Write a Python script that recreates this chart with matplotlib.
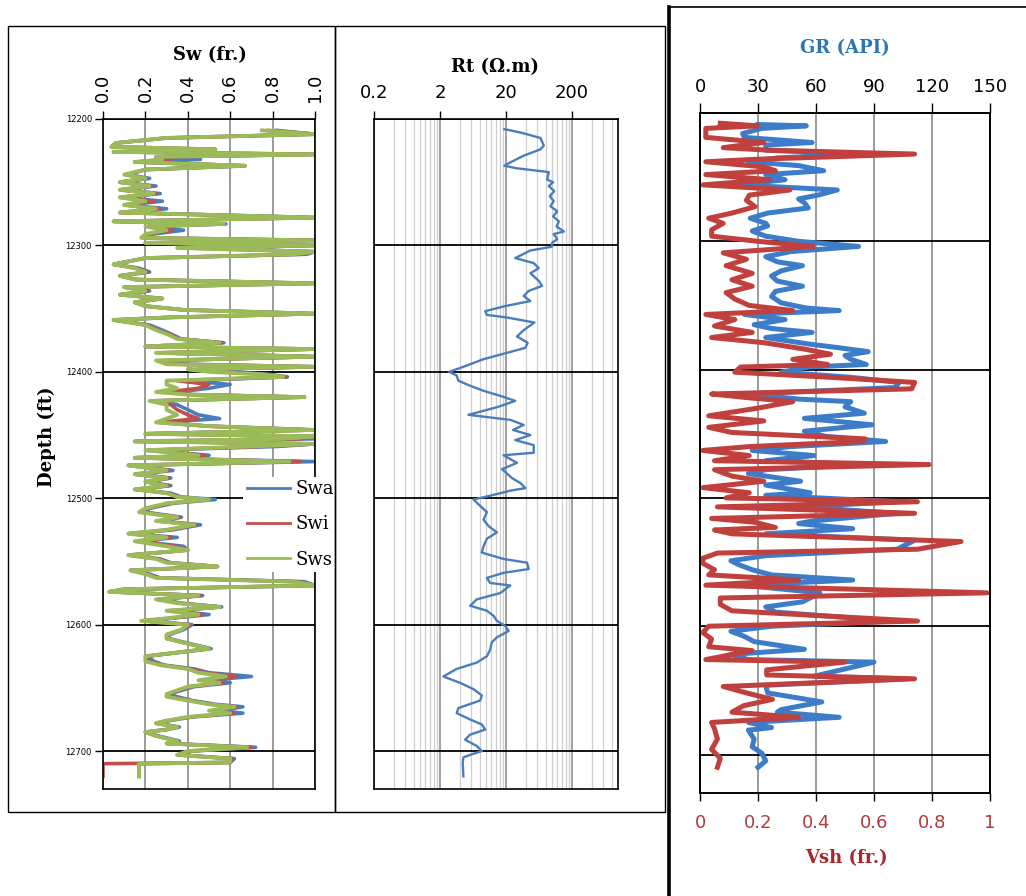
import numpy as np
import matplotlib
matplotlib.use("Agg")
import matplotlib.pyplot as plt
from matplotlib.patches import Rectangle
from matplotlib.ticker import FixedLocator, NullFormatter

# ---- Sw track (depth in ft, saturation fraction) ----
sw_depth = [12209, 12212, 12215, 12219, 12222, 12224, 12226, 12228, 12230, 12232,
            12234, 12237, 12240, 12244, 12247, 12250, 12253, 12256, 12259, 12262,
            12265, 12268, 12271, 12274, 12278, 12281, 12283, 12285, 12288, 12291,
            12294, 12296, 12298, 12300, 12302, 12305, 12307, 12310, 12315, 12318,
            12321, 12324, 12327, 12330, 12333, 12336, 12339, 12342, 12345, 12348,
            12351, 12354, 12357, 12359, 12363, 12367, 12370, 12374, 12377, 12380,
            12382, 12385, 12388, 12391, 12394, 12396, 12398, 12400, 12402, 12404,
            12407, 12410, 12413, 12416, 12418, 12420, 12423, 12426, 12430, 12434,
            12437, 12440, 12443, 12446, 12449, 12451, 12453, 12455, 12457, 12459,
            12462, 12466, 12468, 12471, 12474, 12478, 12481, 12484, 12487, 12490,
            12493, 12496, 12499, 12501, 12504, 12508, 12511, 12515, 12518, 12521,
            12525, 12528, 12531, 12534, 12538, 12541, 12545, 12548, 12551, 12554,
            12557, 12560, 12563, 12566, 12569, 12572, 12574, 12577, 12580, 12583,
            12586, 12589, 12592, 12595, 12597, 12600, 12604, 12608, 12611, 12615,
            12619, 12622, 12625, 12629, 12632, 12635, 12638, 12641, 12644, 12646,
            12649, 12652, 12655, 12657, 12660, 12663, 12665, 12668, 12670, 12673,
            12676, 12678, 12681, 12683, 12685, 12688, 12690, 12692, 12694, 12697,
            12700, 12703, 12706, 12709, 12710, 12720]

sws = [0.75, 1.0, 0.30, 0.06, 0.04, 0.53, 0.05, 1.0, 0.25, 0.28,
       0.15, 0.67, 0.20, 0.10, 0.20, 0.08, 0.22, 0.08, 0.24, 0.08,
       0.20, 0.10, 0.25, 0.08, 1.0, 0.05, 0.57, 0.20, 0.30, 0.20,
       0.18, 1.0, 0.20, 1.0, 0.35, 1.0, 0.90, 0.20, 0.05, 0.15,
       0.20, 0.08, 0.15, 1.0, 0.10, 0.20, 0.08, 0.28, 0.15, 0.20,
       0.38, 1.0, 0.30, 0.05, 0.20, 0.25, 0.30, 0.35, 0.55, 0.20,
       1.0, 0.25, 1.0, 0.25, 0.30, 1.0, 0.40, 0.50, 0.75, 0.85,
       0.30, 0.30, 0.35, 0.25, 0.40, 0.95, 0.22, 0.30, 0.30, 0.35,
       0.30, 0.25, 0.50, 1.0, 0.20, 1.0, 0.85, 0.15, 1.0, 0.70,
       0.20, 0.45, 0.15, 0.88, 0.12, 0.30, 0.15, 0.30, 0.20, 0.30,
       0.15, 0.30, 0.35, 0.50, 0.30, 0.20, 0.17, 0.35, 0.25, 0.43,
       0.30, 0.12, 0.30, 0.15, 0.30, 0.40, 0.12, 0.25, 0.30, 0.54,
       0.13, 0.20, 0.25, 0.90, 1.0, 0.10, 0.03, 0.45, 0.25, 0.35,
       0.55, 0.30, 0.45, 0.30, 0.18, 0.40, 0.37, 0.30, 0.30, 0.40,
       0.50, 0.35, 0.20, 0.20, 0.27, 0.40, 0.45, 0.58, 0.45, 0.55,
       0.40, 0.35, 0.30, 0.30, 0.40, 0.50, 0.62, 0.50, 0.60, 0.40,
       0.30, 0.25, 0.35, 0.30, 0.20, 0.25, 0.30, 0.35, 0.30, 0.68,
       0.40, 0.35, 0.60, 0.60, 0.17, 0.17]

swa = [0.82, 1.0, 0.30, 0.06, 0.04, 0.53, 0.05, 1.0, 0.25, 0.46,
       0.15, 0.67, 0.20, 0.12, 0.22, 0.08, 0.25, 0.09, 0.27, 0.09,
       0.28, 0.11, 0.30, 0.08, 1.0, 0.05, 0.58, 0.22, 0.38, 0.24,
       0.20, 1.0, 0.20, 1.0, 0.45, 1.0, 0.96, 0.20, 0.05, 0.17,
       0.22, 0.08, 0.16, 1.0, 0.10, 0.22, 0.08, 0.28, 0.15, 0.20,
       0.38, 1.0, 0.30, 0.05, 0.22, 0.28, 0.32, 0.37, 0.57, 0.20,
       1.0, 0.27, 1.0, 0.30, 0.40, 1.0, 0.50, 0.62, 0.78, 0.87,
       0.40, 0.60, 0.50, 0.35, 0.42, 0.95, 0.24, 0.35, 0.40, 0.45,
       0.55, 0.28, 0.50, 1.0, 0.20, 1.0, 1.0, 0.15, 1.0, 0.83,
       0.22, 0.50, 0.15, 1.0, 0.12, 0.33, 0.16, 0.32, 0.21, 0.32,
       0.16, 0.32, 0.37, 0.53, 0.33, 0.22, 0.20, 0.37, 0.27, 0.46,
       0.33, 0.13, 0.35, 0.17, 0.38, 0.40, 0.13, 0.27, 0.32, 0.54,
       0.13, 0.22, 0.27, 0.95, 1.0, 0.10, 0.03, 0.47, 0.27, 0.37,
       0.56, 0.33, 0.50, 0.32, 0.20, 0.42, 0.38, 0.31, 0.31, 0.41,
       0.51, 0.36, 0.21, 0.24, 0.29, 0.43, 0.50, 0.70, 0.50, 0.60,
       0.43, 0.37, 0.31, 0.35, 0.42, 0.53, 0.66, 0.55, 0.66, 0.42,
       0.31, 0.26, 0.36, 0.30, 0.20, 0.26, 0.31, 0.36, 0.31, 0.72,
       0.42, 0.36, 0.62, 0.60, 0.17, 0.17]

swi = [0.78, 1.0, 0.30, 0.06, 0.04, 0.53, 0.05, 1.0, 0.25, 0.32,
       0.15, 0.67, 0.20, 0.11, 0.20, 0.08, 0.23, 0.08, 0.25, 0.08,
       0.24, 0.10, 0.27, 0.08, 1.0, 0.05, 0.57, 0.21, 0.33, 0.22,
       0.19, 1.0, 0.20, 1.0, 0.40, 1.0, 0.93, 0.20, 0.05, 0.16,
       0.21, 0.08, 0.15, 1.0, 0.10, 0.21, 0.08, 0.28, 0.15, 0.20,
       0.38, 1.0, 0.30, 0.05, 0.21, 0.26, 0.31, 0.36, 0.56, 0.20,
       1.0, 0.26, 1.0, 0.28, 0.35, 1.0, 0.45, 0.55, 0.76, 0.86,
       0.35, 0.50, 0.45, 0.30, 0.41, 0.95, 0.23, 0.32, 0.35, 0.40,
       0.45, 0.26, 0.50, 1.0, 0.20, 1.0, 0.93, 0.15, 1.0, 0.75,
       0.21, 0.48, 0.15, 0.93, 0.12, 0.31, 0.15, 0.31, 0.20, 0.31,
       0.15, 0.31, 0.36, 0.47, 0.31, 0.21, 0.18, 0.36, 0.26, 0.44,
       0.31, 0.12, 0.32, 0.16, 0.34, 0.40, 0.12, 0.26, 0.31, 0.54,
       0.13, 0.21, 0.26, 0.92, 1.0, 0.10, 0.03, 0.46, 0.26, 0.36,
       0.55, 0.31, 0.47, 0.31, 0.19, 0.41, 0.37, 0.30, 0.30, 0.40,
       0.50, 0.35, 0.20, 0.22, 0.28, 0.41, 0.48, 0.63, 0.48, 0.57,
       0.41, 0.36, 0.30, 0.32, 0.41, 0.51, 0.63, 0.52, 0.62, 0.41,
       0.30, 0.25, 0.35, 0.30, 0.20, 0.25, 0.30, 0.35, 0.30, 0.70,
       0.41, 0.35, 0.61, 0.60, 0.0, 0.0]

# ---- Rt track (ohm.m) ----
rt_depth = [12208, 12211, 12215, 12221, 12224, 12229, 12235, 12237, 12239, 12242,
            12248, 12250, 12253, 12257, 12261, 12265, 12269, 12273, 12277, 12281,
            12285, 12289, 12291, 12295, 12298, 12301, 12304, 12310, 12314, 12318,
            12322, 12328, 12332, 12336, 12340, 12344, 12348, 12352, 12355, 12357,
            12361, 12367, 12372, 12377, 12381, 12385, 12390, 12396, 12400, 12403,
            12407, 12411, 12415, 12419, 12423, 12428, 12434, 12438, 12442, 12446,
            12450, 12454, 12458, 12464, 12466, 12472, 12477, 12484, 12488, 12492,
            12494, 12498, 12501, 12506, 12511, 12517, 12522, 12527, 12532, 12538,
            12543, 12548, 12551, 12556, 12559, 12563, 12567, 12569, 12575, 12580,
            12585, 12589, 12593, 12597, 12601, 12605, 12610, 12614, 12620, 12625,
            12630, 12635, 12641, 12646, 12651, 12656, 12660, 12666, 12670, 12675,
            12679, 12683, 12687, 12691, 12696, 12700, 12703, 12705, 12709, 12720]

rt = [18.9, 35.1, 66.7, 75.0, 66.7, 37.2, 22.0, 18.9, 29.4, 89.3,
      84.2, 104, 89.3, 108, 92.4, 106, 94.6, 120, 104, 127,
      117, 151, 106, 120, 100, 100, 47.0, 27.7, 52.8, 62.9,
      47.0, 62.9, 70.7, 44.3, 37.2, 47.0, 19.5, 9.69, 10.3, 20.7,
      54.0, 37.2, 29.4, 42.8, 39.4, 20.7, 9.14, 4.53, 2.77, 3.59,
      3.80, 5.73, 9.14, 16.4, 27.7, 14.6, 5.40, 23.3, 37.2, 25.6,
      47.0, 27.7, 52.8, 52.8, 18.4, 29.4, 17.4, 24.7, 33.1, 39.4,
      23.3, 11.5, 6.44, 8.13, 10.3, 9.14, 10.9, 14.6, 10.3, 9.14,
      8.63, 18.4, 41.8, 44.3, 18.4, 10.3, 11.5, 23.3, 16.4, 7.23,
      5.73, 10.3, 13.0, 14.6, 19.5, 22.0, 14.6, 12.2, 11.5, 10.3,
      7.23, 3.59, 2.25, 4.03, 6.44, 8.63, 8.13, 3.80, 3.59, 5.73,
      8.63, 9.69, 5.73, 4.81, 7.23, 8.63, 5.73, 4.53, 4.43, 4.53]

# ---- GR / Vsh track ----
gr_depth = [12209, 12210, 12212, 12216, 12219, 12223, 12225, 12229, 12232, 12235,
            12238, 12241, 12245, 12248, 12252, 12256, 12260, 12264, 12267, 12270,
            12274, 12278, 12282, 12286, 12288, 12292, 12296, 12300, 12304, 12308,
            12312, 12316, 12319, 12323, 12327, 12331, 12335, 12339, 12343, 12348,
            12352, 12354, 12357, 12361, 12365, 12368, 12371, 12375, 12380, 12383,
            12386, 12389, 12392, 12396, 12398, 12402, 12406, 12410, 12414, 12419,
            12423, 12425, 12429, 12434, 12438, 12443, 12448, 12452, 12456, 12460,
            12463, 12467, 12471, 12474, 12478, 12481, 12487, 12490, 12496, 12498,
            12503, 12507, 12512, 12518, 12520, 12524, 12528, 12533, 12540, 12545,
            12549, 12552, 12556, 12560, 12564, 12568, 12574, 12581, 12585, 12589,
            12596, 12600, 12604, 12608, 12612, 12618, 12622, 12626, 12628, 12634,
            12639, 12641, 12646, 12652, 12656, 12659, 12665, 12667, 12671, 12675,
            12679, 12681, 12688, 12694, 12699, 12705, 12710]

gr = [30, 55, 32, 22, 23, 58, 34, 34, 85, 40,
      25, 51, 64, 34, 44, 20, 71, 61, 51, 54,
      56, 35, 26, 34, 35, 27, 34, 51, 82, 47,
      34, 40, 53, 42, 37, 40, 53, 39, 37, 42,
      55, 72, 23, 44, 28, 37, 58, 34, 56, 72,
      87, 75, 78, 86, 56, 42, 78, 103, 101, 25,
      51, 78, 75, 85, 54, 89, 54, 65, 96, 47,
      27, 59, 34, 85, 34, 25, 52, 34, 57, 34,
      102, 51, 102, 58, 51, 79, 34, 111, 102, 34,
      16, 20, 27, 37, 79, 22, 62, 53, 34, 39,
      100, 37, 16, 23, 28, 54, 16, 25, 90, 73,
      59, 106, 34, 35, 51, 63, 42, 40, 72, 25,
      37, 25, 28, 27, 32, 34, 30]

vsh_depth = [12208, 12210, 12212, 12219, 12223, 12227, 12229, 12232, 12236, 12238,
             12242, 12245, 12248, 12252, 12256, 12260, 12264, 12268, 12273, 12278,
             12282, 12286, 12291, 12296, 12300, 12304, 12309, 12314, 12319, 12325,
             12330, 12335, 12340, 12345, 12350, 12354, 12357, 12361, 12366, 12371,
             12375, 12379, 12384, 12388, 12392, 12396, 12398, 12402, 12406, 12410,
             12415, 12419, 12422, 12425, 12430, 12436, 12440, 12445, 12449, 12454,
             12456, 12460, 12463, 12467, 12471, 12474, 12478, 12483, 12487, 12492,
             12496, 12500, 12503, 12507, 12512, 12516, 12519, 12523, 12525, 12528,
             12534, 12540, 12543, 12547, 12551, 12556, 12560, 12564, 12568, 12574,
             12578, 12583, 12588, 12596, 12600, 12605, 12610, 12616, 12619, 12626,
             12628, 12634, 12638, 12641, 12647, 12652, 12657, 12662, 12667, 12671,
             12675, 12680, 12688, 12696, 12703, 12710]

vsh = [0.07, 0.20, 0.02, 0.02, 0.22, 0.08, 0.24, 0.74, 0.20, 0.02,
       0.22, 0.26, 0.02, 0.24, 0.01, 0.31, 0.17, 0.16, 0.19, 0.11,
       0.03, 0.08, 0.04, 0.04, 0.20, 0.39, 0.08, 0.16, 0.09, 0.18,
       0.11, 0.18, 0.09, 0.12, 0.17, 0.32, 0.02, 0.12, 0.05, 0.18,
       0.04, 0.22, 0.36, 0.45, 0.32, 0.44, 0.14, 0.12, 0.45, 0.74,
       0.73, 0.04, 0.17, 0.32, 0.20, 0.03, 0.22, 0.03, 0.11, 0.57,
       0.56, 0.17, 0.01, 0.17, 0.05, 0.79, 0.05, 0.11, 0.22, 0.01,
       0.17, 0.09, 0.75, 0.06, 0.74, 0.04, 0.19, 0.26, 0.05, 0.11,
       0.90, 0.75, 0.06, 0.01, 0.01, 0.05, 0.03, 0.34, 0.02, 0.99,
       0.07, 0.07, 0.11, 0.75, 0.03, 0.01, 0.04, 0.03, 0.18, 0.02,
       0.50, 0.23, 0.23, 0.74, 0.08, 0.16, 0.25, 0.15, 0.11, 0.34,
       0.04, 0.05, 0.06, 0.04, 0.07, 0.06]

depth_ticks = [12200, 12300, 12400, 12500, 12600, 12700]

BLUE = "#4a7ebb"
RED = "#c0504d"
GREEN = "#9bbb59"
SERIF = "DejaVu Serif"

W, H = 1026, 896
fig = plt.figure(figsize=(W / 100, H / 100), dpi=100)


def fx(px):
    return px / W


def fy(py):
    return 1 - py / H


def axes_box(x0, y0, x1, y1):
    return [fx(x0), fy(y1), fx(x1) - fx(x0), fy(y0) - fy(y1)]


# panel frames
fig.add_artist(Rectangle((fx(8), fy(812)), fx(335) - fx(8), fy(26) - fy(812),
                         transform=fig.transFigure, fill=False, lw=1.0, ec="black"))
fig.add_artist(Rectangle((fx(335), fy(812)), fx(665) - fx(335), fy(26) - fy(812),
                         transform=fig.transFigure, fill=False, lw=1.0, ec="black"))
fig.add_artist(Rectangle((fx(669), fy(899)), fx(1030) - fx(669), fy(7) - fy(899),
                         transform=fig.transFigure, fill=False, lw=1.2, ec="black"))
fig.add_artist(plt.Line2D([fx(669), fx(669)], [0, fy(7)], transform=fig.transFigure,
                          color="black", lw=2.6))

# ---------- Panel 1 : Sw ----------
ax1 = fig.add_axes(axes_box(103, 119, 315, 789))
l_a, = ax1.plot(swa, sw_depth, color=BLUE, lw=2.6)
l_i, = ax1.plot(swi, sw_depth, color=RED, lw=2.6)
l_s, = ax1.plot(sws, sw_depth, color=GREEN, lw=2.8)
ax1.set_xlim(0, 1)
ax1.set_ylim(12730, 12200)
ax1.set_xticks([0, 0.2, 0.4, 0.6, 0.8, 1.0])
ax1.set_xticklabels(["0.0", "0.2", "0.4", "0.6", "0.8", "1.0"], rotation=90)
ax1.xaxis.tick_top()
ax1.set_yticks(depth_ticks)
ax1.set_yticklabels([str(d) for d in depth_ticks])
ax1.tick_params(axis="x", labelsize=13, length=6, width=1, pad=6, direction="out")
ax1.tick_params(axis="y", labelsize=6, length=6, width=1, pad=2, direction="out")
ax1.grid(axis="x", color="#8a8a8a", lw=1.2)
ax1.grid(axis="y", color="black", lw=1.3)
ax1.set_axisbelow(True)
for s in ax1.spines.values():
    s.set_linewidth(1.2)
leg = ax1.legend([l_a, l_i, l_s], ["Swa", "Swi", "Sws"], loc="center left",
                 bbox_to_anchor=(0.62, 0.395), frameon=True, fancybox=False,
                 framealpha=1, edgecolor="none", facecolor="white",
                 prop={"family": SERIF, "size": 13}, handlelength=2.4,
                 labelspacing=0.95, borderpad=0.2, handletextpad=0.3)
for ln in leg.get_lines():
    ln.set_linewidth(2.0)
fig.text(fx(210), fy(55), "Sw (fr.)", ha="center", va="center",
         family=SERIF, weight="bold", size=13)
fig.text(fx(47), fy(437), "Depth (ft)", ha="center", va="center", rotation=90,
         family=SERIF, weight="bold", size=13)

# ---------- Panel 2 : Rt ----------
ax2 = fig.add_axes(axes_box(374, 119, 618, 789))
ax2.plot(rt, rt_depth, color=BLUE, lw=1.7)
ax2.set_xscale("log")
ax2.set_xlim(0.2, 1000)
ax2.set_ylim(12730, 12200)
ax2.xaxis.tick_top()
ax2.set_xticks([0.2, 2, 20, 200])
ax2.set_xticklabels(["0.2", "2", "20", "200"])
minor = [0.2 * k * 10 ** n for n in range(4) for k in range(2, 10)
         if 0.2 * k * 10 ** n < 1000]
ax2.xaxis.set_minor_locator(FixedLocator(minor))
ax2.xaxis.set_minor_formatter(NullFormatter())
ax2.set_yticks(depth_ticks)
ax2.set_yticklabels([])
ax2.tick_params(axis="x", which="major", labelsize=13, length=6, width=1, pad=6)
ax2.tick_params(axis="x", which="minor", length=0)
ax2.tick_params(axis="y", length=0)
ax2.grid(axis="x", which="major", color="#9a9a9a", lw=1.3)
ax2.grid(axis="x", which="minor", color="#cfcfcf", lw=0.9)
ax2.grid(axis="y", color="black", lw=1.3)
ax2.set_axisbelow(True)
for s in ax2.spines.values():
    s.set_linewidth(1.2)
fig.text(fx(495), fy(67), "Rt (\u03a9.m)", ha="center", va="center",
         family=SERIF, weight="bold", size=13)

# ---------- Panel 3 : GR and Vsh ----------
ax3 = fig.add_axes(axes_box(700, 113, 990, 793))
ax3b = ax3.twiny()

ax3.plot(gr, gr_depth, color="#3d7cc9", lw=3.6)
ax3.set_xlim(0, 150)
ax3.set_ylim(12730, 12200)
ax3.set_xticks([0, 30, 60, 90, 120, 150])
ax3.set_yticks(depth_ticks)
ax3.set_yticklabels([])
ax3.tick_params(axis="x", bottom=False, labelbottom=False, top=True, labeltop=True,
                labelsize=13, length=7, width=1, pad=5)
ax3.tick_params(axis="y", length=0)
ax3.grid(axis="x", color="#8a8a8a", lw=1.2)
ax3.grid(axis="y", color="black", lw=1.3)
ax3.set_axisbelow(True)

ax3b.plot(vsh, vsh_depth, color="#c0403e", lw=3.6)
ax3b.set_xlim(0, 1)
ax3b.set_ylim(12730, 12200)
ax3b.set_xticks([0, 0.2, 0.4, 0.6, 0.8, 1.0])
ax3b.set_xticklabels(["0", "0.2", "0.4", "0.6", "0.8", "1"])
ax3b.tick_params(axis="x", top=False, labeltop=False, bottom=True, labelbottom=True,
                 labelsize=13, length=6, width=1, pad=9, labelcolor="#b23a3a")
for a in (ax3, ax3b):
    for s in a.spines.values():
        s.set_linewidth(1.2)
fig.text(fx(845), fy(48), "GR (API)", ha="center", va="center",
         family=SERIF, weight="bold", size=13, color="#2e75b6")
fig.text(fx(846), fy(858), "Vsh (fr.)", ha="center", va="center",
         family=SERIF, weight="bold", size=13, color="#a8262b")

fig.savefig("out.png", dpi=100)
